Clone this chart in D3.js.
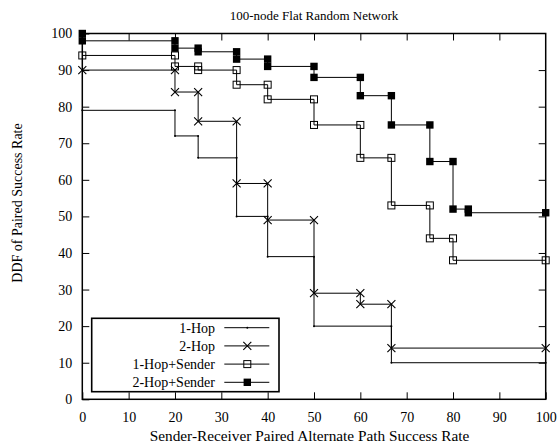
<!DOCTYPE html>
<html>
<head>
<meta charset="utf-8">
<script src="https://cdn.jsdelivr.net/npm/d3@7"></script>
<style>
  body { margin: 0; background: #fff; }
  svg { display: block; }
  .axis line { stroke: #000; }
</style>
</head>
<body>
<script>
// step-shaped DDF curves, every corner is a data point
const oneHop = [[0,79],[20,79],[20,72],[25,72],[25,66],[33.3,66],[33.3,50],[40,50],[40,39],[50,39],[50,20],[66.7,20],[66.7,10],[100,10]];
const twoHop = [[0,90],[20,90],[20,84],[25,84],[25,76],[33.3,76],[33.3,59],[40,59],[40,49],[50,49],[50,29],[60,29],[60,26],[66.7,26],[66.7,14],[100,14]];
const oneHopSender = [[0,94],[20,94],[20,91],[25,91],[25,90],[33.3,90],[33.3,86],[40,86],[40,82],[50,82],[50,75],[60,75],[60,66],[66.7,66],[66.7,53],[75,53],[75,44],[80,44],[80,38],[100,38]];
const twoHopSender = [[0,100],[0,98],[20,98],[20,96],[25,96],[25,95],[33.3,95],[33.3,93],[40,93],[40,91],[50,91],[50,88],[60,88],[60,83],[66.7,83],[66.7,75],[75,75],[75,65],[80,65],[80,52],[83.3,52],[83.3,51],[100,51]];

const seriesNames = ["1-Hop", "2-Hop", "1-Hop+Sender", "2-Hop+Sender"];
const markerTypes = ["dot", "cross", "square", "filled"];
const xTicks = [0,10,20,30,40,50,60,70,80,90,100];
const yTicks = [0,10,20,30,40,50,60,70,80,90,100];

const serif = "Liberation Serif, Times New Roman, serif";
const width = 558, height = 447;
const svg = d3.select("body").append("svg").attr("width", width).attr("height", height)
  .attr("font-family", serif);

const x = d3.scaleLinear().domain([0,100]).range([82.3, 545.7]);
const y = d3.scaleLinear().domain([0,100]).range([399.3, 33.5]);

// axes, ticks point inward on all four sides
function styleAxis(g) {
  g.select(".domain").remove();
  g.attr("font-family", serif).attr("font-size", 14);
  g.selectAll("text").attr("fill", "#000");
}
svg.append("g").attr("class","axis").attr("transform",`translate(0,${y(0)})`)
  .call(d3.axisBottom(x).tickValues(xTicks).tickSize(-7).tickPadding(13).tickFormat(d3.format("d")))
  .call(styleAxis);
svg.append("g").attr("class","axis").attr("transform",`translate(0,${y(100)})`)
  .call(d3.axisTop(x).tickValues(xTicks.slice(1,-1)).tickSize(-7).tickFormat(""))
  .call(styleAxis);
svg.append("g").attr("class","axis").attr("transform",`translate(${x(0)},0)`)
  .call(d3.axisLeft(y).tickValues(yTicks).tickSize(-7).tickPadding(10).tickFormat(d3.format("d")))
  .call(styleAxis);
svg.append("g").attr("class","axis").attr("transform",`translate(${x(100)},0)`)
  .call(d3.axisRight(y).tickValues(yTicks.slice(1,-1)).tickSize(-7).tickFormat(""))
  .call(styleAxis);

svg.append("rect")
  .attr("x", x(0)).attr("y", y(100))
  .attr("width", x(100)-x(0)).attr("height", y(0)-y(100))
  .attr("fill","none").attr("stroke","#000").attr("stroke-width",1.5);

const line = d3.line().x(d => x(d[0])).y(d => y(d[1]));

function drawMarker(g, type, cx, cy) {
  if (type === "dot") {
    g.append("circle").attr("cx",cx).attr("cy",cy).attr("r",1).attr("fill","#000");
  } else if (type === "cross") {
    g.append("path").attr("d",`M${cx-4},${cy-4}L${cx+4},${cy+4}M${cx-4},${cy+4}L${cx+4},${cy-4}`)
      .attr("stroke","#000").attr("stroke-width",1.1).attr("fill","none");
  } else if (type === "square") {
    g.append("rect").attr("x",cx-3.5).attr("y",cy-3.5).attr("width",7).attr("height",7)
      .attr("fill","none").attr("stroke","#000").attr("stroke-width",1);
  } else {
    g.append("rect").attr("x",cx-3.7).attr("y",cy-3.7).attr("width",7.4).attr("height",7.4)
      .attr("fill","#000");
  }
}

const allSeries = [oneHop, twoHop, oneHopSender, twoHopSender];
allSeries.forEach((data, i) => {
  const g = svg.append("g");
  g.append("path").datum(data).attr("d", line)
    .attr("fill","none").attr("stroke","#000").attr("stroke-width",1);
  data.forEach(d => drawMarker(g, markerTypes[i], x(d[0]), y(d[1])));
});

// legend
const legend = svg.append("g");
legend.append("rect").attr("x",91.7).attr("y",318.3).attr("width",187.3).attr("height",73.4)
  .attr("fill","#fff").attr("stroke","#000").attr("stroke-width",1.6);
seriesNames.forEach((name, i) => {
  const ly = 327.7 + i*18.2;
  legend.append("text").attr("x",215).attr("y",ly).attr("dy","0.35em")
    .attr("text-anchor","end").attr("font-size",14).text(name);
  legend.append("line").attr("x1",224.3).attr("x2",269.3).attr("y1",ly).attr("y2",ly)
    .attr("stroke","#000").attr("stroke-width",1);
  drawMarker(legend, markerTypes[i], 247.3, ly);
});

// titles
svg.append("text").attr("x",314).attr("y",20).attr("text-anchor","middle")
  .attr("font-size",13).text("100-node Flat Random Network");
svg.append("text").attr("x",309.5).attr("y",441).attr("text-anchor","middle")
  .attr("font-size",15.3).text("Sender-Receiver Paired Alternate Path Success Rate");
svg.append("text").attr("transform","translate(22,203) rotate(-90)").attr("text-anchor","middle")
  .attr("font-size",14).text("DDF of Paired Success Rate");
</script>
</body>
</html>
